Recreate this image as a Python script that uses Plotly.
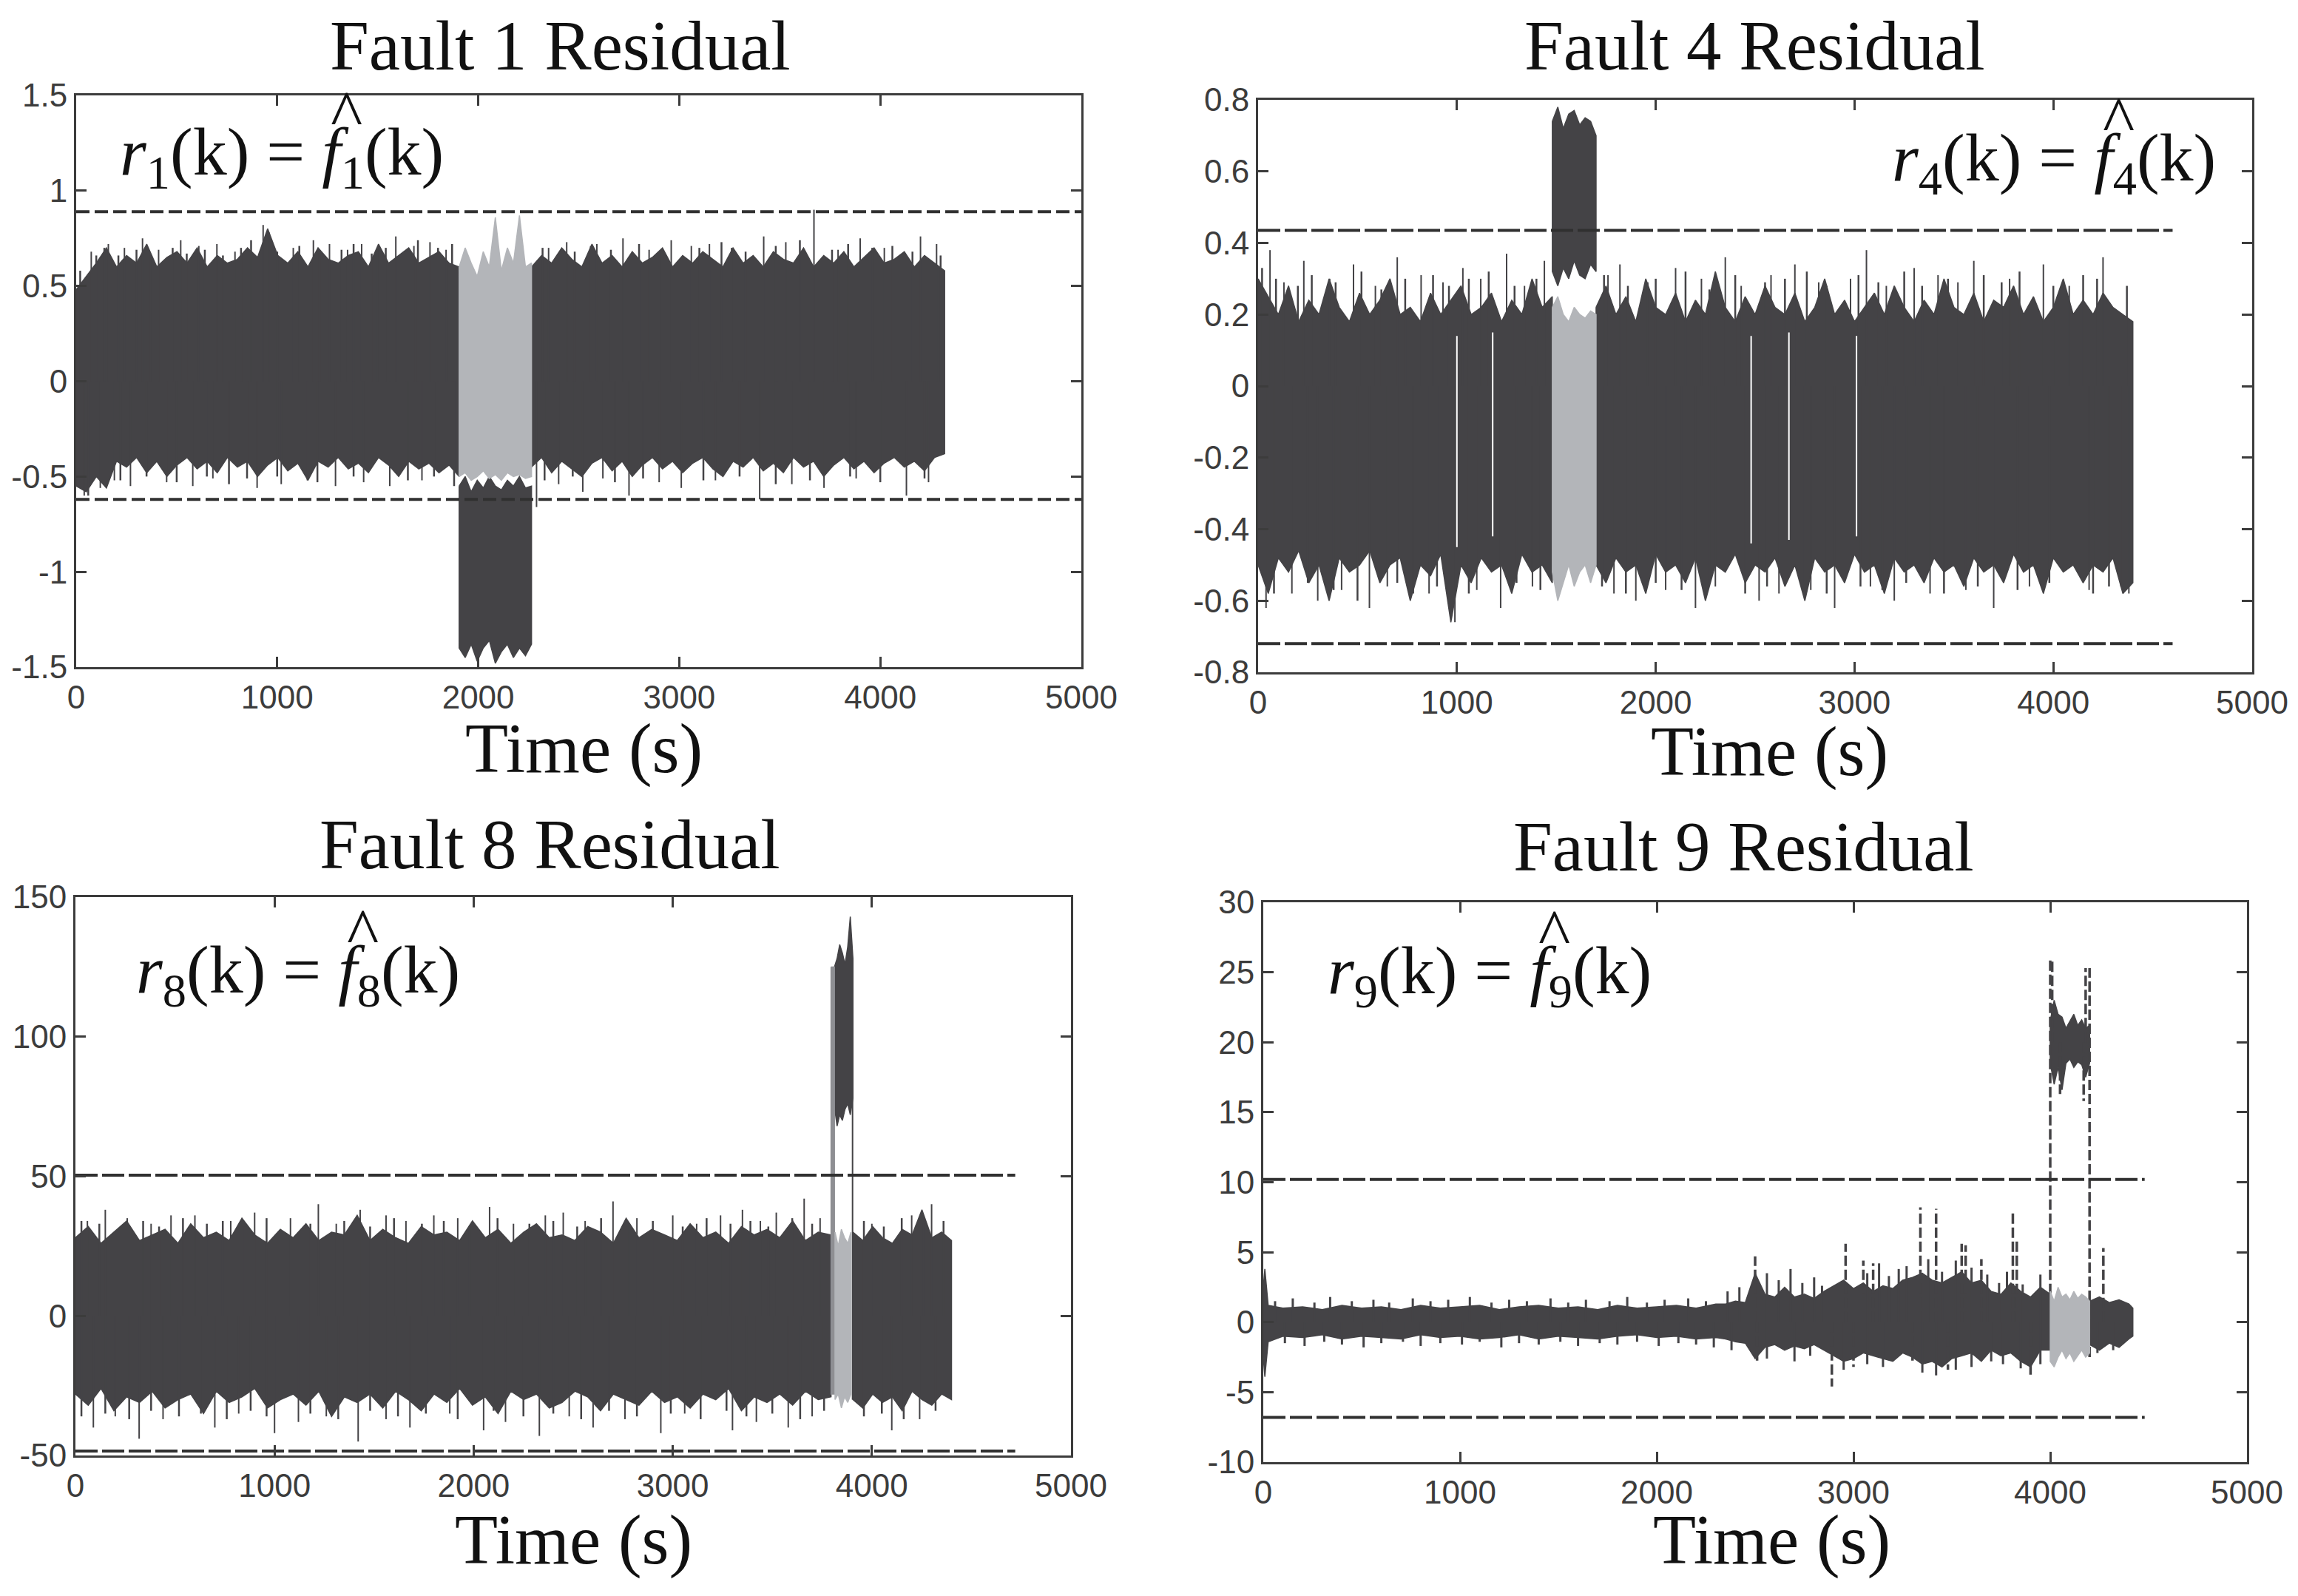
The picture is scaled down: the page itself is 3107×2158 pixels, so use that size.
import numpy as np
import plotly.graph_objects as go

W, H = 3107, 2158
DARK = "#444346"
GREY = "#b3b5b9"
AXC = "#3c3c3c"

# ---------------- Panel 1 : Fault 1 ----------------
p1_a_span = [0, 1905]
p1_a_upper = [0.48, 0.55, 0.62, 0.70, 0.60, 0.66, 0.62, 0.72, 0.60, 0.65, 0.68, 0.62, 0.70, 0.60, 0.66, 0.62, 0.64, 0.70, 0.65, 0.80,
              0.66, 0.62, 0.68, 0.60, 0.70, 0.64, 0.62, 0.66, 0.68, 0.60, 0.72, 0.62, 0.66, 0.70, 0.62, 0.65, 0.68, 0.62, 0.60]
p1_a_lower = [-0.55, -0.58, -0.50, -0.56, -0.42, -0.45, -0.40, -0.48, -0.42, -0.50, -0.44, -0.40, -0.46, -0.42, -0.48, -0.40, -0.45, -0.42, -0.50, -0.44,
              -0.40, -0.47, -0.43, -0.52, -0.42, -0.45, -0.40, -0.46, -0.43, -0.48, -0.40, -0.44, -0.50, -0.42, -0.46, -0.43, -0.48, -0.44, -0.50]
p1_f_span = [1905, 2265]
p1_f_grey_upper = [0.60, 0.70, 0.62, 0.55, 0.68, 0.60, 0.86, 0.58, 0.70, 0.62, 0.87, 0.60, 0.62]
p1_f_grey_lower = [-0.50, -0.48, -0.52, -0.50, -0.47, -0.51, -0.49, -0.52, -0.48, -0.50, -0.49, -0.51, -0.50]
p1_f_dark_upper = [-0.55, -0.50, -0.58, -0.52, -0.56, -0.50, -0.55, -0.57, -0.52, -0.55, -0.50, -0.56, -0.55]
p1_f_dark_lower = [-1.40, -1.45, -1.38, -1.47, -1.40, -1.36, -1.48, -1.42, -1.38, -1.45, -1.40, -1.44, -1.38]
p1_b_span = [2265, 4320]
p1_b_upper = [0.60, 0.66, 0.62, 0.70, 0.64, 0.60, 0.72, 0.62, 0.66, 0.60, 0.68, 0.62, 0.65, 0.70, 0.60, 0.66, 0.62, 0.68, 0.64, 0.60, 0.70,
              0.62, 0.66, 0.60, 0.68, 0.64, 0.62, 0.70, 0.60, 0.66, 0.62, 0.68, 0.60, 0.65, 0.70, 0.62, 0.64, 0.68, 0.60, 0.66, 0.62, 0.58]
p1_b_lower = [-0.45, -0.40, -0.48, -0.42, -0.46, -0.50, -0.43, -0.40, -0.47, -0.42, -0.50, -0.44, -0.40, -0.46, -0.42, -0.48, -0.43, -0.40, -0.46, -0.50, -0.42,
              -0.45, -0.40, -0.47, -0.43, -0.48, -0.40, -0.45, -0.42, -0.50, -0.44, -0.40, -0.46, -0.42, -0.48, -0.43, -0.40, -0.45, -0.42, -0.47, -0.40, -0.38]
p1_spike_x = [160, 330, 520, 700, 930, 960, 1180, 1420, 1590, 1760, 2440, 2720, 2960, 3150, 3420, 3670, 3900, 4200,
              40, 120, 270, 580, 900, 1290, 1560, 2290, 2520, 2750, 3010, 3400, 3720, 4130,
              75, 240, 410, 610, 790, 1080, 1260, 1350, 1500, 1680, 1840, 2350, 2590, 2850, 3060, 3260, 3530, 3790, 4020, 4280,
              190, 450, 680, 1020, 1150, 1430, 1720, 2400, 2620, 2900, 3180, 3560, 3880, 4240]
p1_spike_lo = [0] * 66
p1_spike_hi = [0.72, 0.75, 0.74, 0.72, 0.82, 0.78, 0.74, 0.72, 0.76, 0.73, 0.73, 0.75, 0.74, 0.72, 0.76, 0.90, 0.75, 0.76,
               -0.60, -0.56, -0.55, -0.55, -0.56, -0.55, -0.55, -0.66, -0.58, -0.60, -0.56, -0.62, -0.56, -0.60,
               0.68, 0.70, 0.69, 0.71, 0.68, 0.70, 0.72, 0.69, 0.70, 0.71, 0.69, 0.70, 0.72, 0.69, 0.71, 0.70, 0.73, 0.69, 0.70, 0.72,
               -0.52, -0.53, -0.51, -0.54, -0.52, -0.53, -0.52, -0.54, -0.51, -0.53, -0.52, -0.54, -0.51, -0.53]
p1_tex_x = [20, 100, 140, 210, 300, 370, 480, 550, 640, 730, 820, 870, 1000, 1110, 1210, 1320, 1380, 1470, 1540, 1640, 1700, 1800, 1870,
            2320, 2480, 2560, 2660, 2800, 2900, 3100, 3210, 3330, 3480, 3600, 3760, 3840, 3960, 4060, 4160, 4300,
            60, 220, 350, 500, 650, 760, 850, 1000, 1200, 1380, 1650, 1780, 1880, 2330, 2470, 2680, 2820, 3120, 3300, 3480,
            3650, 3850, 4000, 4220]
p1_tex_hi = [0.58, 0.66, 0.70, 0.66, 0.69, 0.66, 0.70, 0.67, 0.69, 0.66, 0.70, 0.74, 0.68, 0.71, 0.67, 0.69, 0.72, 0.67, 0.70, 0.68,
             0.74, 0.70, 0.72, 0.70, 0.68, 0.71, 0.69, 0.72, 0.68, 0.70, 0.73, 0.68, 0.71, 0.74, 0.69, 0.72, 0.70, 0.71, 0.68, 0.66,
             -0.60, -0.52, -0.50, -0.53, -0.50, -0.54, -0.51, -0.50, -0.53, -0.50, -0.52, -0.50, -0.55, -0.52, -0.50, -0.53, -0.51,
             -0.52, -0.50, -0.54, -0.52, -0.50, -0.53, -0.51]
p1_thresholds = [0.89, -0.62]
p1_thr_span = [0, 5000]
p1_yticks = [-1.5, -1, -0.5, 0, 0.5, 1, 1.5]
p1_yticktext = ["-1.5", "-1", "-0.5", "0", "0.5", "1", "1.5"]

# ---------------- Panel 2 : Fault 4 ----------------
p2_a_span = [0, 1480]
p2_a_upper = [0.30, 0.25, 0.20, 0.28, 0.18, 0.24, 0.20, 0.30, 0.22, 0.18, 0.26, 0.20, 0.24, 0.30, 0.20,
              0.22, 0.18, 0.26, 0.20, 0.24, 0.28, 0.20, 0.22, 0.26, 0.18, 0.24, 0.20, 0.30, 0.22, 0.25]
p2_a_lower = [-0.50, -0.58, -0.48, -0.52, -0.46, -0.55, -0.50, -0.60, -0.48, -0.52, -0.50, -0.46, -0.55, -0.50, -0.48,
              -0.60, -0.50, -0.53, -0.47, -0.66, -0.50, -0.55, -0.48, -0.52, -0.50, -0.58, -0.47, -0.52, -0.50, -0.55]
p2_f_span = [1480, 1700]
p2_f_dark_upper = [0.74, 0.78, 0.72, 0.76, 0.77, 0.73, 0.75, 0.74, 0.70]
p2_f_dark_lower = [0.32, 0.28, 0.33, 0.30, 0.35, 0.31, 0.30, 0.34, 0.32]
p2_f_grey_upper = [0.22, 0.25, 0.20, 0.18, 0.22, 0.20, 0.19, 0.21, 0.20]
p2_f_grey_lower = [-0.52, -0.60, -0.55, -0.50, -0.56, -0.52, -0.50, -0.55, -0.50]
p2_b_span = [1700, 4400]
p2_b_upper = [0.22, 0.28, 0.20, 0.25, 0.18, 0.30, 0.22, 0.20, 0.26, 0.18, 0.24, 0.20, 0.32, 0.22, 0.18, 0.25, 0.20, 0.28,
              0.22, 0.20, 0.26, 0.18, 0.22, 0.30, 0.20, 0.24, 0.18, 0.22, 0.26, 0.20, 0.28, 0.22, 0.18, 0.24, 0.20, 0.30,
              0.22, 0.20, 0.26, 0.18, 0.24, 0.22, 0.28, 0.20, 0.25, 0.18, 0.22, 0.30, 0.20, 0.24, 0.20, 0.26, 0.22, 0.20, 0.18]
p2_b_lower = [-0.50, -0.55, -0.48, -0.52, -0.50, -0.58, -0.47, -0.52, -0.50, -0.55, -0.48, -0.60, -0.50, -0.52, -0.47, -0.55, -0.50, -0.52,
              -0.48, -0.56, -0.50, -0.60, -0.48, -0.52, -0.50, -0.55, -0.47, -0.52, -0.50, -0.58, -0.48, -0.52, -0.50, -0.55, -0.48, -0.52,
              -0.50, -0.56, -0.48, -0.52, -0.50, -0.55, -0.47, -0.52, -0.50, -0.58, -0.48, -0.52, -0.50, -0.55, -0.50, -0.52, -0.48, -0.58, -0.55]
p2_spike_x = [60, 230, 480, 700, 1030, 1250, 1440, 1820, 2100, 2350, 2700, 3060, 3300, 3600, 3950, 4250,
              40, 300, 560, 990, 1220, 1900, 2200, 2520, 2900, 3200, 3700, 4380,
              130, 360, 590, 820, 930, 1120, 1340, 1760, 1960, 2230, 2430, 2580, 2820, 2980, 3160, 3420, 3520, 3780, 4080, 4180, 4340,
              170, 420, 650, 860, 1100, 1380, 1790, 2050, 2300, 2620, 2780, 3080, 3380, 3560, 3880, 4120, 4300]
p2_spike_lo = [0] * 66
p2_spike_hi = [0.38, 0.35, 0.34, 0.36, 0.33, 0.37, 0.35, 0.34, 0.33, 0.36, 0.34, 0.38, 0.33, 0.35, 0.34, 0.36,
               -0.62, -0.60, -0.62, -0.66, -0.62, -0.60, -0.62, -0.60, -0.62, -0.60, -0.62, -0.58,
               0.29, 0.30, 0.28, 0.31, 0.29, 0.30, 0.28, 0.31, 0.29, 0.30, 0.28, 0.31, 0.29, 0.30, 0.28, 0.31, 0.29, 0.30, 0.28,
               -0.57, -0.56, -0.58, -0.57, -0.56, -0.58, -0.57, -0.56, -0.58, -0.57, -0.56, -0.58, -0.57, -0.56, -0.58, -0.57, -0.56]
p2_tex_x = [20, 90, 200, 270, 390, 520, 620, 740, 880, 960, 1060, 1160, 1290, 1400, 1740, 1860, 2000, 2150, 2270, 2400, 2550, 2650,
            2760, 2860, 3020, 3120, 3250, 3340, 3470, 3650, 3740, 3830, 4000, 4150, 4220, 4370,
            80, 250, 380, 500, 700, 780, 900, 1060, 1300, 1420, 1730, 1850, 2000, 2130, 2270, 2450, 2560, 2740, 2860, 3030, 3140,
            3260, 3450, 3620, 3820, 3980, 4200, 4280]
p2_tex_hi = [0.33, 0.30, 0.28, 0.31, 0.29, 0.32, 0.27, 0.30, 0.31, 0.28, 0.30, 0.32, 0.28, 0.30, 0.31, 0.28, 0.30, 0.32, 0.27, 0.31,
             0.29, 0.30, 0.32, 0.28, 0.31, 0.29, 0.32, 0.28, 0.30, 0.31, 0.29, 0.32, 0.28, 0.31, 0.30, 0.28,
             -0.58, -0.55, -0.57, -0.60, -0.55, -0.58, -0.56, -0.58, -0.55, -0.57, -0.56, -0.58, -0.55, -0.57, -0.55, -0.58, -0.56,
             -0.55, -0.58, -0.56, -0.57, -0.55, -0.58, -0.56, -0.57, -0.55, -0.58, -0.56]
p2_gap_x = [1000, 1180, 2480, 2670, 3010]
p2_gap_lo = [-0.45, -0.42, -0.44, -0.43, -0.42]
p2_gap_hi = [0.14, 0.15, 0.14, 0.15, 0.14]
p2_thresholds = [0.435, -0.72]
p2_thr_span = [0, 4600]
p2_yticks = [-0.8, -0.6, -0.4, -0.2, 0, 0.2, 0.4, 0.6, 0.8]
p2_yticktext = ["-0.8", "-0.6", "-0.4", "-0.2", "0", "0.2", "0.4", "0.6", "0.8"]

# ---------------- Panel 3 : Fault 8 ----------------
p3_a_span = [0, 3795]
p3_a_upper = [28, 32, 26, 30, 34, 27, 29, 31, 26, 33, 28, 30, 27, 35, 29, 26, 31, 28, 33, 27, 30, 29, 36, 27, 31, 28, 26, 32, 29, 30,
              27, 34, 28, 31, 26, 30, 33, 28, 29, 27, 32, 30, 26, 35, 28, 31, 29, 27, 33, 28, 30, 26, 32, 29, 31, 28, 34, 27, 30, 29]
p3_a_lower = [-28, -32, -26, -34, -29, -31, -27, -33, -30, -28, -35, -27, -31, -29, -26, -33, -30, -28, -32, -27, -36, -29, -31, -28, -33,
              -27, -30, -34, -28, -31, -26, -32, -29, -35, -27, -30, -28, -33, -31, -27, -29, -34, -28, -30, -32, -27, -31, -29, -33, -28,
              -30, -26, -34, -29, -31, -28, -32, -27, -30, -29]
p3_strip_span = [3795, 3812]
p3_strip_upper = [125, 125]
p3_strip_lower = [-28, -28]
p3_f_span = [3812, 3905]
p3_f_dark_upper = [125, 128, 133, 130, 126, 132, 143, 128]
p3_f_dark_lower = [75, 68, 72, 70, 74, 76, 72, 78]
p3_f_grey_span = [3815, 3895]
p3_f_grey_upper = [30, 25, 31, 28, 26, 30]
p3_f_grey_lower = [-30, -28, -33, -29, -31, -28]
p3_b_span = [3905, 4400]
p3_b_upper = [30, 27, 32, 28, 26, 31, 29, 38, 28, 30, 27]
p3_b_lower = [-30, -33, -28, -31, -29, -34, -27, -30, -32, -28, -30]
p3_spike_x = [150, 480, 900, 1220, 1430, 1800, 2080, 2450, 2700, 3000, 3350, 3520, 3660, 4300,
              90, 320, 700, 1000, 1420, 1680, 2050, 2330, 2600, 2940, 3300, 3580, 4100, 3903,
              60, 260, 380, 600, 780, 1080, 1310, 1560, 1660, 1920, 2200, 2360, 2560, 2820, 3120, 3240, 3440, 3740, 4000, 4200,
              200, 440, 820, 1120, 1260, 1560, 1880, 2160, 2480, 2760, 3060, 3420, 3700, 4240]
p3_spike_lo = [0] * 27 + [-30] + [0] * 36
p3_spike_hi = [38, 36, 37, 40, 38, 36, 39, 37, 41, 36, 38, 37, 42, 40,
               -40, -44, -40, -42, -45, -40, -41, -43, -40, -42, -41, -40, -41, 128,
               34, 35, 33, 36, 34, 35, 33, 36, 34, 35, 33, 36, 34, 35, 33, 36, 34, 35, 33, 36,
               -36, -37, -35, -38, -36, -37, -35, -38, -36, -37, -35, -38, -36, -37]
p3_tex_x = [30, 120, 340, 420, 540, 660, 740, 850, 960, 1180, 1350, 1480, 1600, 1740, 1850, 1980, 2120, 2280, 2400, 2520, 2640,
            2780, 2900, 3050, 3170, 3290, 3390, 3480, 3600, 3700, 3960, 4060, 4150, 4260, 4360,
            30, 150, 270, 380, 520, 630, 760, 880, 960, 1180, 1320, 1480, 1620, 1760, 1920, 2100, 2250, 2400, 2540, 2680, 2820,
            2990, 3140, 3270, 3370, 3500, 3640, 3760, 3960, 4050, 4160, 4320]
p3_tex_hi = [34, 33, 34, 32, 35, 33, 34, 32, 35, 33, 34, 32, 35, 33, 34, 32, 35, 33, 34, 32, 35, 33, 34, 32, 35, 33, 34, 32, 35, 33,
             34, 32, 35, 33, 34,
             -36, -35, -37, -34, -36, -35, -37, -34, -36, -35, -37, -34, -36, -35, -37, -34, -36, -35, -37, -34, -36, -35, -37, -34,
             -36, -35, -37, -34, -36, -35, -37, -34]
p3_thresholds = [50.4, -48.4]
p3_thr_span = [0, 4720]
p3_yticks = [-50, 0, 50, 100, 150]
p3_yticktext = ["-50", "0", "50", "100", "150"]

# ---------------- Panel 4 : Fault 9 ----------------
p4_a_t = [0, 8, 25, 100, 200, 300, 400, 500, 600, 700, 800, 900, 1000, 1100, 1200, 1300, 1400, 1500, 1600, 1700, 1800, 1900, 2000,
          2100, 2200, 2300, 2350, 2400, 2450, 2500, 2550, 2600, 2650, 2700, 2750, 2800, 2850, 2900, 2950, 3000, 3050, 3100, 3150,
          3200, 3250, 3300, 3350, 3400, 3450, 3500, 3550, 3600, 3650, 3700, 3750, 3800, 3850, 3900, 3950, 4000]
p4_a_upper = [2.5, 3.8, 1.2, 1.0, 1.1, 0.9, 1.2, 1.0, 1.1, 0.9, 1.2, 1.0, 1.1, 1.2, 0.9, 1.1, 1.2, 1.0, 1.1, 0.9, 1.2, 1.0, 1.1,
              1.2, 1.0, 1.3, 1.3, 1.5, 1.4, 3.5, 2.0, 1.8, 2.5, 1.8, 2.0, 1.7, 2.2, 2.6, 3.0, 2.4, 2.8, 2.2, 2.6,
              2.4, 3.0, 3.2, 3.5, 3.0, 2.8, 3.2, 3.6, 2.8, 3.0, 2.2, 2.0, 2.8, 2.2, 1.8, 2.5, 2.0]
p4_a_lower = [-2.5, -3.9, -1.4, -1.0, -1.1, -0.9, -1.2, -1.0, -1.1, -1.2, -0.9, -1.1, -1.0, -1.2, -1.1, -0.9, -1.2, -1.0, -1.1, -1.2, -1.0, -0.9, -1.1,
              -1.0, -1.2, -1.1, -1.2, -1.4, -1.5, -2.6, -1.8, -1.6, -2.0, -1.7, -1.9, -1.6, -2.0, -2.4, -2.8, -2.6, -2.2, -2.4, -2.6,
              -2.8, -2.2, -2.5, -3.0, -2.8, -3.2, -2.6, -2.4, -2.2, -2.8, -2.0, -2.4, -2.2, -2.8, -3.2, -2.0, -2.0]
p4_f_t = [4000, 4020, 4040, 4060, 4080, 4100, 4120, 4140, 4160, 4180, 4200]
p4_f_dark_upper = [21.5, 23.0, 22.0, 21.8, 21.0, 21.5, 22.0, 21.2, 21.6, 21.0, 21.2]
p4_f_dark_lower = [18.5, 17.0, 18.2, 16.6, 18.5, 18.8, 18.2, 18.6, 18.4, 17.5, 18.5]
p4_f_grey_upper = [2.2, 1.5, 2.5, 1.8, 2.0, 1.6, 2.2, 1.7, 2.0, 1.8, 1.5]
p4_f_grey_lower = [-2.8, -3.2, -2.5, -2.0, -2.6, -2.2, -2.8, -2.4, -2.0, -2.5, -2.2]
p4_b_t = [4200, 4250, 4300, 4350, 4400, 4420]
p4_b_upper = [1.5, 1.8, 1.4, 1.6, 1.3, 1.0]
p4_b_lower = [-1.6, -2.0, -1.5, -1.8, -1.2, -1.0]
p4_spike_x = [2500, 2510, 2890, 2960, 3050, 3000, 3340, 3420, 3300, 3550, 3570, 3810, 3830, 3900, 4270, 3100, 3650, 3480,
              4010, 4180, 4050, 4170, 4000, 4200]
p4_spike_lo = [0] * 18 + [20, 20, 20, 20, 0, -2.5]
p4_spike_hi = [4.7, -2.8, -4.6, 5.6, 4.4, -3.2, 8.2, 8.1, -3.0, 5.6, 5.5, 7.8, 6.0, -3.8, 5.3, 4.2, 4.5, -3.4,
               26.0, 25.3, 16.3, 15.8, 26.0, 25.3]
p4_tex_x = [60, 150, 260, 340, 450, 560, 640, 760, 850, 940, 1050, 1160, 1250, 1340, 1460, 1550, 1640, 1760, 1850, 1950, 2040,
            2160, 2250,
            110, 210, 310, 400, 510, 600, 710, 800, 900, 1010, 1100, 1210, 1300, 1400, 1510, 1600, 1710, 1800, 1900, 2010, 2110,
            2200, 2290,
            2360, 2420, 2560, 2620, 2680, 2740, 2800, 2840, 3070, 3130, 3180, 3230, 3270, 3380, 3450, 3520, 3600, 3680, 3740,
            3780, 3860, 3950,
            2380, 2560, 2700, 2780, 2950, 3070, 3150, 3350, 3420, 3520, 3600, 3700, 3760, 3850, 3950, 4240, 4320]
p4_tex_hi = [1.5, 1.7, 1.4, 1.8, 1.5, 1.6, 1.4, 1.7, 1.5, 1.6, 1.8, 1.4, 1.6, 1.5, 1.7, 1.4, 1.6, 1.5, 1.8, 1.4, 1.6, 1.7, 1.5,
             -1.5, -1.7, -1.4, -1.6, -1.8, -1.5, -1.4, -1.7, -1.5, -1.6, -1.4, -1.8, -1.5, -1.6, -1.4, -1.7, -1.5, -1.6, -1.4,
             -1.7, -1.5, -1.6, -1.8,
             2.2, 2.5, 3.5, 3.0, 3.8, 2.8, 3.2, 2.6, 3.5, 4.2, 3.3, 3.8, 4.0, 4.5, 3.6, 4.4, 3.9, 3.4, 2.8, 3.6, 2.7, 3.4,
             -2.0, -2.6, -2.8, -2.4, -3.4, -3.0, -3.2, -3.6, -3.8, -3.4, -3.2, -2.8, -3.0, -3.3, -3.0, -2.2, -2.0]
p4_thresholds = [10.2, -6.8]
p4_thr_span = [0, 4480]
p4_yticks = [-10, -5, 0, 5, 10, 15, 20, 25, 30]
p4_yticktext = ["-10", "-5", "0", "5", "10", "15", "20", "25", "30"]

x_ticks = [0, 1000, 2000, 3000, 4000, 5000]
x_ticktext = ["0", "1000", "2000", "3000", "4000", "5000"]
titles = ["Fault 1 Residual", "Fault 4 Residual", "Fault 8 Residual", "Fault 9 Residual"]
xlabel = "Time (s)"
formula_idx = ["1", "4", "8", "9"]
y_ranges = [[-1.5, 1.5], [-0.8, 0.8], [-50, 150], [-10, 30]]

# ---------------- layout geometry (pixels) ----------------
boxes = [(103, 1462, 129, 902), (1701, 3045, 135, 909), (102, 1448, 1213, 1968), (1708, 3038, 1220, 1977)]
title_pos = [(757, 62), (2372, 62), (743, 1142), (2357, 1145)]
xlabel_pos = [(789, 1012), (2392, 1016), (775, 2082), (2395, 2082)]
formula_pos = [(160, 232), (2556, 240), (182, 1338), (1793, 1339)]


def px(x):
    return x / W


def py(y):
    return 1 - y / H


fig = go.Figure()


def axn(i):
    return ("x" if i == 0 else f"x{i+1}", "y" if i == 0 else f"y{i+1}")


def band(i, t, upper, lower, color):
    xa, ya = axn(i)
    if len(t) == 2:
        tu = list(np.linspace(t[0], t[1], len(upper)))
        tl = list(np.linspace(t[0], t[1], len(lower)))
    else:
        tu, tl = list(t), list(t)
    xs = tu + tl[::-1] + [tu[0]]
    ys = list(upper) + list(lower)[::-1] + [upper[0]]
    fig.add_trace(go.Scatter(x=xs, y=ys, mode="lines", fill="toself", fillcolor=color,
                             line=dict(color=color, width=1.5), xaxis=xa, yaxis=ya,
                             hoverinfo="skip", showlegend=False))


def spikes(i, xs, lo, hi, color, width=2.5, dash="solid"):
    xa, ya = axn(i)
    X, Y = [], []
    for a, b, c in zip(xs, lo, hi):
        X += [a, a, None]
        Y += [b, c, None]
    fig.add_trace(go.Scatter(x=X, y=Y, mode="lines", line=dict(color=color, width=width, dash=dash),
                             xaxis=xa, yaxis=ya, hoverinfo="skip", showlegend=False))


def thresholds(i, vals, span, dash):
    xa, ya = axn(i)
    X, Y = [], []
    for v in vals:
        X += [span[0], span[1], None]
        Y += [v, v, None]
    fig.add_trace(go.Scatter(x=X, y=Y, mode="lines", line=dict(color="#303030", width=4, dash=dash),
                             xaxis=xa, yaxis=ya, hoverinfo="skip", showlegend=False))


# Panel 1
band(0, p1_a_span, p1_a_upper, p1_a_lower, DARK)
band(0, p1_f_span, p1_f_dark_upper, p1_f_dark_lower, DARK)
band(0, p1_b_span, p1_b_upper, p1_b_lower, DARK)
spikes(0, p1_spike_x, p1_spike_lo, p1_spike_hi, DARK, width=2)
spikes(0, p1_tex_x, [0] * len(p1_tex_x), p1_tex_hi, DARK, width=2.5)
band(0, p1_f_span, p1_f_grey_upper, p1_f_grey_lower, GREY)
thresholds(0, p1_thresholds, p1_thr_span, "18px,7px")

# Panel 2
band(1, p2_a_span, p2_a_upper, p2_a_lower, DARK)
band(1, p2_b_span, p2_b_upper, p2_b_lower, DARK)
spikes(1, p2_spike_x, p2_spike_lo, p2_spike_hi, DARK, width=2)
spikes(1, p2_tex_x, [0] * len(p2_tex_x), p2_tex_hi, DARK, width=2.5)
spikes(1, p2_gap_x, p2_gap_lo, p2_gap_hi, "white", width=2)
band(1, p2_f_span, p2_f_dark_upper, p2_f_dark_lower, DARK)
band(1, p2_f_span, p2_f_grey_upper, p2_f_grey_lower, GREY)
thresholds(1, p2_thresholds, p2_thr_span, "30px,6px")

# Panel 3
band(2, p3_a_span, p3_a_upper, p3_a_lower, DARK)
band(2, p3_b_span, p3_b_upper, p3_b_lower, DARK)
band(2, p3_f_span, p3_f_dark_upper, p3_f_dark_lower, DARK)
spikes(2, p3_spike_x, p3_spike_lo, p3_spike_hi, DARK, width=2)
spikes(2, p3_tex_x, [0] * len(p3_tex_x), p3_tex_hi, DARK, width=2.5)
band(2, p3_strip_span, p3_strip_upper, p3_strip_lower, "#8e8f93")
band(2, p3_f_grey_span, p3_f_grey_upper, p3_f_grey_lower, GREY)
thresholds(2, p3_thresholds, p3_thr_span, "30px,6px")

# Panel 4
band(3, p4_a_t, p4_a_upper, p4_a_lower, DARK)
band(3, p4_b_t, p4_b_upper, p4_b_lower, DARK)
band(3, p4_f_t, p4_f_dark_upper, p4_f_dark_lower, DARK)
spikes(3, p4_tex_x, [0] * len(p4_tex_x), p4_tex_hi, DARK, width=3)
spikes(3, p4_spike_x, p4_spike_lo, p4_spike_hi, DARK, width=3.5, dash="14px,5px")
band(3, p4_f_t, p4_f_grey_upper, p4_f_grey_lower, GREY)
thresholds(3, p4_thresholds, p4_thr_span, "30px,6px")

ytick_vals = [p1_yticks, p2_yticks, p3_yticks, p4_yticks]
ytick_text = [p1_yticktext, p2_yticktext, p3_yticktext, p4_yticktext]

layout = dict(template="none", width=W, height=H, autosize=False, margin=dict(l=0, r=0, t=0, b=0, pad=0),
              paper_bgcolor="white", plot_bgcolor="white", showlegend=False)
tickfont = dict(family="Liberation Sans, Arial, sans-serif", size=44, color=AXC)
for i, (x0, x1, y0, y1) in enumerate(boxes):
    xk = "xaxis" if i == 0 else f"xaxis{i+1}"
    yk = "yaxis" if i == 0 else f"yaxis{i+1}"
    xa, ya = axn(i)
    layout[xk] = dict(domain=[px(x0), px(x1)], range=[0, 5000], anchor=ya, automargin=False, showgrid=False,
                      zeroline=False, showline=True, linecolor=AXC, linewidth=3, mirror="ticks", ticks="inside",
                      ticklen=14, tickwidth=2.5, tickcolor=AXC, tickvals=x_ticks, ticktext=x_ticktext, tickfont=tickfont)
    layout[yk] = dict(domain=[py(y1), py(y0)], range=y_ranges[i], anchor=xa, automargin=False, showgrid=False,
                      zeroline=False, showline=True, linecolor=AXC, linewidth=3, mirror="ticks", ticks="inside",
                      ticklen=14, tickwidth=2.5, tickcolor=AXC, tickvals=ytick_vals[i], ticktext=ytick_text[i],
                      tickfont=tickfont)
fig.update_layout(**layout)

serif = "Liberation Serif, Times New Roman, serif"
ann = []
for i in range(4):
    ann.append(dict(text=titles[i], x=px(title_pos[i][0]), y=py(title_pos[i][1]), xref="paper", yref="paper",
                    showarrow=False, xanchor="center", yanchor="middle", font=dict(family=serif, size=95, color="#111")))
    ann.append(dict(text=xlabel, x=px(xlabel_pos[i][0]), y=py(xlabel_pos[i][1]), xref="paper", yref="paper",
                    showarrow=False, xanchor="center", yanchor="middle", font=dict(family=serif, size=95, color="#111")))
    fx, fb = formula_pos[i]
    k = formula_idx[i]
    ann.append(dict(text=f"<i>r</i><sub>{k}</sub>(k) = <i>f</i><sub>{k}</sub>(k)", x=px(fx), y=py(fb - 21),
                    xref="paper", yref="paper", showarrow=False, xanchor="left", yanchor="middle",
                    font=dict(family=serif, size=92, color="#111")))
    ann.append(dict(text="^", x=px(fx + 308), y=py(fb - 78), xref="paper", yref="paper", showarrow=False,
                    xanchor="center", yanchor="middle", font=dict(family=serif, size=92, color="#111")))
fig.update_layout(annotations=ann)

fig.write_html("out.html", config={"displayModeBar": False},
               post_script="document.body.style.margin='0px';")
